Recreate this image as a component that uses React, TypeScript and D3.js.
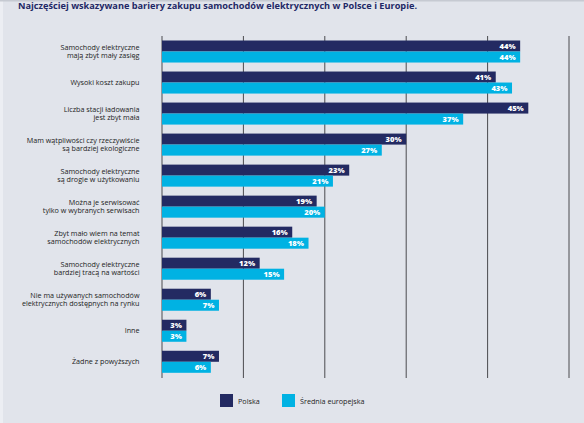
import { useEffect, useRef } from "react";
import * as d3 from "d3";

const CATEGORIES = [
  ["Samochody elektryczne", "mają zbyt mały zasięg"],
  ["Wysoki koszt zakupu"],
  ["Liczba stacji ładowania", "jest zbyt mała"],
  ["Mam wątpliwości czy rzeczywiście", "są bardziej ekologiczne"],
  ["Samochody elektryczne", "są drogie w użytkowaniu"],
  ["Można je serwisować", "tylko w wybranych serwisach"],
  ["Zbyt mało wiem na temat", "samochodów elektrycznych"],
  ["Samochody elektryczne", "bardziej tracą na wartości"],
  ["Nie ma używanych samochodów", "elektrycznych dostępnych na rynku"],
  ["Inne"],
  ["Żadne z powyższych"],
];

const POLSKA = [44, 41, 45, 30, 23, 19, 16, 12, 6, 3, 7];
const EUROPA = [44, 43, 37, 27, 21, 20, 18, 15, 7, 3, 6];
const X_TICKS = [0, 10, 20, 30, 40, 50];

const SERIES = [
  { name: "Polska", values: POLSKA, color: "#232a62" },
  { name: "Średnia europejska", values: EUROPA, color: "#00b2e3" },
];

const TITLE = "Najczęściej wskazywane bariery zakupu samochodów elektrycznych w Polsce i Europie.";
const FONT = "'Open Sans', sans-serif";

export default function App() {
  const svgRef = useRef<SVGSVGElement>(null);

  useEffect(() => {
    if (!svgRef.current) return;
    const W = 584, H = 423;
    const svg = d3.select(svgRef.current).attr("width", W).attr("height", H);
    svg.selectAll("*").remove();

    svg.append("rect").attr("width", W).attr("height", H).attr("fill", "#e1e4eb");
    svg.append("rect").attr("width", 3).attr("height", H).attr("fill", "#eceef3");
    svg.append("rect").attr("width", W).attr("height", 1.5).attr("fill", "#c6cad2");

    svg.append("text").attr("x", 18).attr("y", 8.8)
      .attr("font-family", FONT).attr("font-weight", 700).attr("font-size", 8.8)
      .attr("textLength", 399).attr("lengthAdjust", "spacingAndGlyphs")
      .attr("fill", "#1f2966").text(TITLE);

    const x = d3.scaleLinear().domain([0, 50]).range([162, 569]);
    const keys = CATEGORIES.map((_, i) => String(i));
    const y = d3.scaleBand().domain(keys).range([36, 377.3]).paddingInner(0.29).paddingOuter(0.145);
    const sub = d3.scaleBand().domain(SERIES.map(s => s.name)).range([0, y.bandwidth()]);

    X_TICKS.forEach(t => {
      svg.append("line").attr("x1", x(t)).attr("x2", x(t)).attr("y1", 36).attr("y2", 378)
        .attr("stroke", "#4b4b4f").attr("stroke-width", 1);
    });

    CATEGORIES.forEach((lines, i) => {
      const y0 = y(String(i))!;
      const cy = y0 + y.bandwidth() / 2;
      lines.forEach((ln, j) => {
        svg.append("text").attr("x", 139.5).attr("y", cy + (j - (lines.length - 1) / 2) * 7.8)
          .attr("dy", "0.35em").attr("text-anchor", "end")
          .attr("font-family", FONT).attr("font-size", 7.2).attr("fill", "#1c1c1c").text(ln);
      });
      SERIES.forEach(s => {
        const v = s.values[i];
        const by = y0 + sub(s.name)!;
        svg.append("rect").attr("x", x(0)).attr("y", by).attr("width", x(v) - x(0)).attr("height", sub.bandwidth())
          .attr("fill", s.color);
        svg.append("text").attr("x", x(v) - 4.5).attr("y", by + sub.bandwidth() / 2).attr("dy", "0.35em")
          .attr("text-anchor", "end").attr("font-family", FONT).attr("font-weight", 800).attr("font-size", 7.6)
          .attr("fill", "#ffffff").text(`${v}%`);
      });
    });

    const legX = [220, 282];
    SERIES.forEach((s, i) => {
      svg.append("rect").attr("x", legX[i]).attr("y", 394).attr("width", 13).attr("height", 13).attr("fill", s.color);
      svg.append("text").attr("x", legX[i] + 18).attr("y", 401).attr("dy", "0.35em")
        .attr("font-family", FONT).attr("font-size", 7.2).attr("fill", "#1c1c1c").text(s.name);
    });
  }, []);

  return (
    <div>
      <style>{`body{margin:0}`}</style>
      <svg ref={svgRef} style={{ display: "block" }} />
    </div>
  );
}
